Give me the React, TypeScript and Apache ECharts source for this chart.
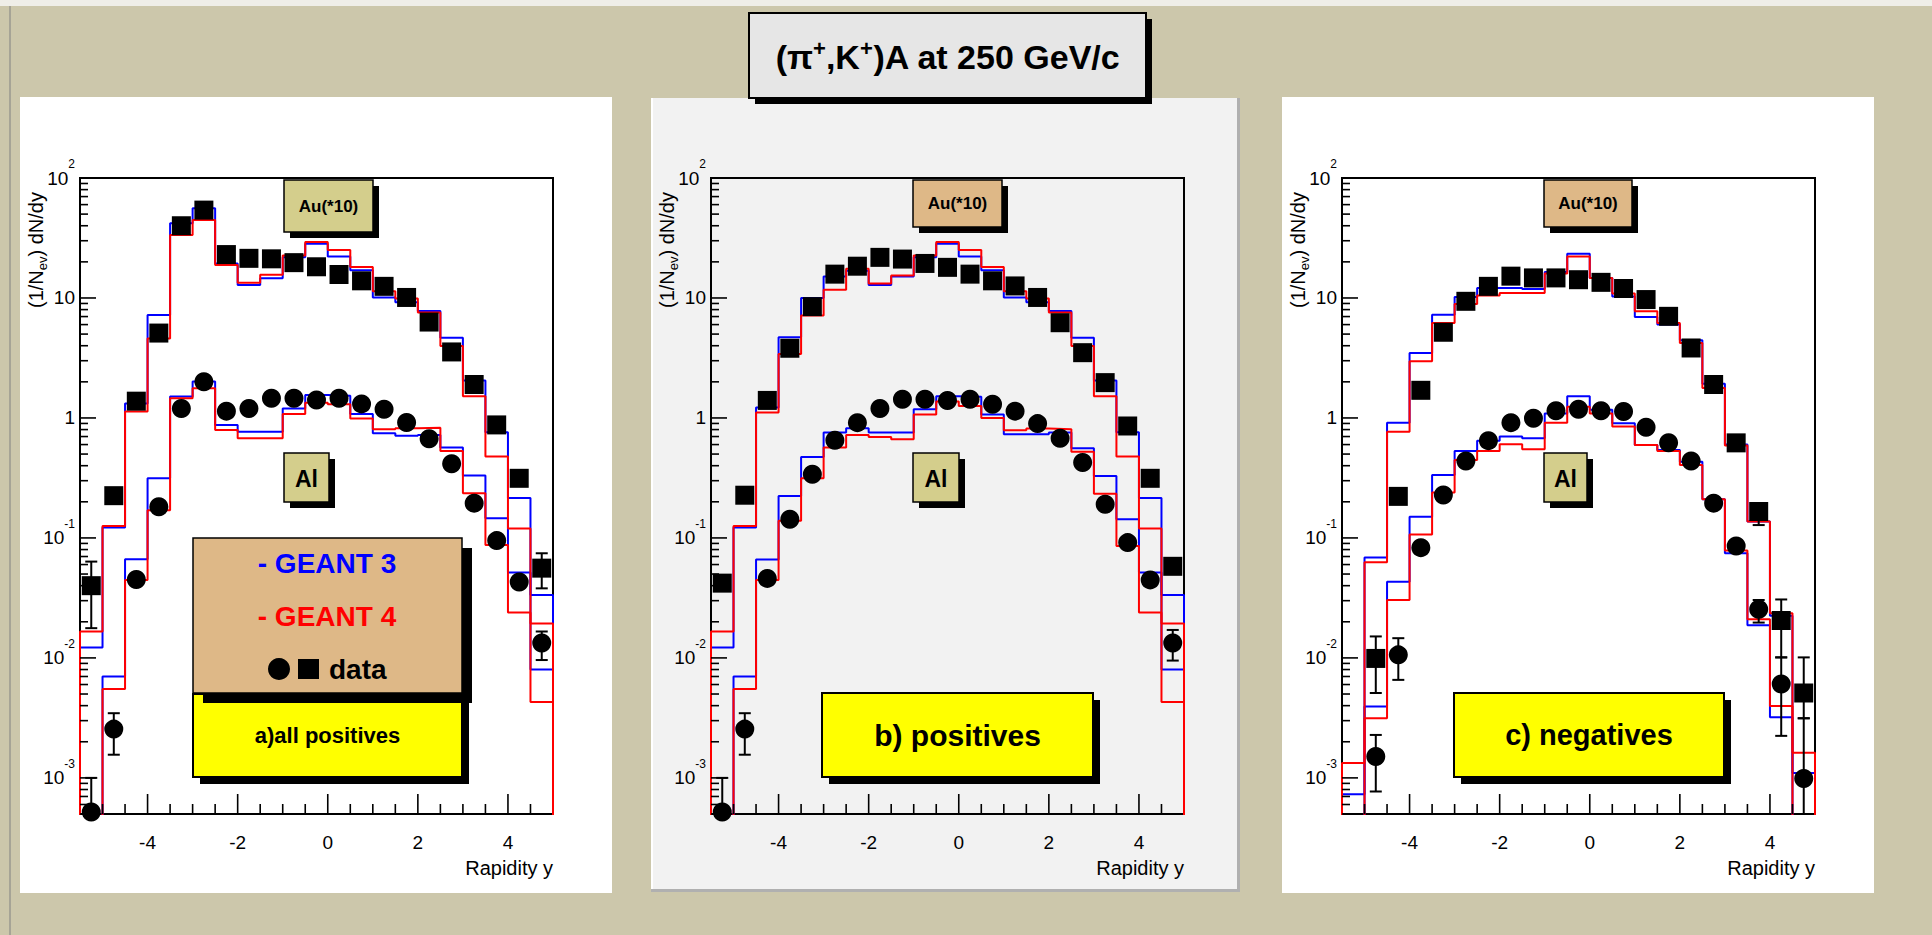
import React, { useEffect, useRef } from "react";
import * as echarts from "echarts";

// ---------------- data ----------------
const binCenters = [-5.25, -4.75, -4.25, -3.75, -3.25, -2.75, -2.25, -1.75, -1.25, -0.75, -0.25, 0.25, 0.75, 1.25, 1.75, 2.25, 2.75, 3.25, 3.75, 4.25, 4.75];
const binWidth = 0.5;
const xTickLabels = [-4, -2, 0, 2, 4];
const yTickLabels = [0.001, 0.01, 0.1, 1, 10, 100];
const X_MIN = -5.5;
const X_MAX = 5;
const Y_MIN = 0.0005;
const Y_MAX = 100;

const chartTitle = "{t|(π}{s|+}{t|,K}{s|+}{t|)A at 250 GeV/c}";
const panelLabels = ["a)all positives", "b) positives", "c) negatives"];
const auLabel = "Au(*10)";
const alLabel = "Al";
const legendG3 = "- GEANT 3";
const legendG4 = "- GEANT 4";
const legendData = "data";
const xTitle = "Rapidity y";

// panel a : all positives
const aAuGeant3 = [0.0122, 0.122, 1.32, 7.2, 42, 56, 19.4, 12.8, 14.6, 21.8, 28.3, 22.2, 17.0, 10.1, 9.2, 7.8, 4.67, 2.05, 0.76, 0.215, 0.0335];
const aAuGeant4 = [0.0166, 0.126, 1.13, 4.6, 33.5, 44.7, 18.8, 13.4, 15.6, 22.6, 29.3, 25.1, 18.1, 11.4, 9.9, 7.55, 3.98, 1.52, 0.478, 0.12, 0.0194];
const aAlGeant3 = [null, 0.007, 0.0664, 0.314, 1.51, 2.01, 0.875, 0.769, 0.769, 1.2, 1.55, 1.53, 1.08, 0.745, 0.71, 0.72, 0.566, 0.331, 0.146, 0.0514, 0.008];
const aAlGeant4 = [null, 0.0055, 0.0447, 0.17, 1.46, 1.77, 0.794, 0.677, 0.677, 1.08, 1.34, 1.3, 0.99, 0.805, 0.82, 0.83, 0.531, 0.236, 0.0875, 0.0239, 0.0043];
const aAuData = [0.04, 0.225, 1.38, 5.1, 40, 54, 23, 21.4, 21.2, 19.7, 18.2, 15.7, 13.9, 12.5, 10.1, 6.3, 3.55, 1.9, 0.875, 0.314, 0.056];
const aAlData = [0.00052, 0.00255, 0.045, 0.182, 1.2, 2.0, 1.14, 1.2, 1.46, 1.46, 1.41, 1.46, 1.31, 1.18, 0.915, 0.67, 0.416, 0.195, 0.095, 0.043, 0.0133];
const aAuErrors = [[0, 0.0177, 0.0635], [20, 0.038, 0.0745]];
const aAlErrors = [[0, 0.0001, 0.001], [1, 0.00156, 0.00346], [20, 0.0096, 0.0166]];

// panel b : positives
const bAuGeant3 = [0.0122, 0.122, 1.22, 4.7, 10, 15.1, 16.9, 12.8, 15.1, 21.8, 28.3, 22.2, 17.0, 10.1, 9.2, 7.8, 4.67, 2.05, 0.76, 0.215, 0.0335];
const bAuGeant4 = [0.0166, 0.126, 1.11, 3.41, 7.13, 11.7, 17.5, 13.2, 15.4, 22.6, 29.3, 25.1, 18.1, 11.4, 9.9, 7.55, 3.98, 1.52, 0.478, 0.12, 0.0194];
const bAlGeant3 = [null, 0.007, 0.066, 0.224, 0.473, 0.755, 0.82, 0.755, 0.755, 1.18, 1.52, 1.5, 1.07, 0.73, 0.73, 0.755, 0.559, 0.329, 0.143, 0.0514, 0.008];
const bAlGeant4 = [null, 0.0055, 0.0447, 0.139, 0.314, 0.566, 0.722, 0.695, 0.664, 1.07, 1.37, 1.26, 1.0, 0.79, 0.815, 0.805, 0.524, 0.234, 0.0858, 0.0239, 0.0043];
const bAuData = [0.042, 0.227, 1.4, 3.81, 8.47, 15.8, 18.4, 21.8, 21.1, 19.4, 18.0, 15.8, 13.9, 12.6, 10.1, 6.22, 3.5, 1.97, 0.857, 0.314, 0.058];
const bAlData = [0.00052, 0.00255, 0.046, 0.143, 0.34, 0.652, 0.914, 1.2, 1.43, 1.43, 1.4, 1.43, 1.3, 1.14, 0.897, 0.677, 0.425, 0.191, 0.0914, 0.0447, 0.0133];
const bAuErrors: number[][] = [];
const bAlErrors = [[0, 0.0001, 0.001], [1, 0.00156, 0.00346], [20, 0.0095, 0.0171]];

// panel c : negatives
const cAuGeant3 = [0.00073, 0.0686, 0.914, 3.48, 7.26, 10.2, 12.1, 12.1, 11.9, 16.5, 23.4, 14.7, 10.3, 6.95, 6.0, 4.44, 1.93, 0.6, 0.137, 0.0225, 0.0011];
const cAuGeant4 = [0.00133, 0.0627, 0.769, 2.97, 6.19, 8.9, 10.5, 11.0, 11.0, 16.0, 22.2, 14.7, 10.9, 7.74, 6.19, 4.22, 1.78, 0.59, 0.137, 0.0236, 0.00162];
const cAlGeant3 = [null, 0.00393, 0.0432, 0.15, 0.335, 0.531, 0.647, 0.699, 0.677, 1.09, 1.52, 1.17, 0.903, 0.596, 0.541, 0.432, 0.21, 0.0745, 0.0187, 0.0032, null];
const cAlGeant4 = [null, 0.00314, 0.0304, 0.107, 0.239, 0.447, 0.531, 0.604, 0.548, 0.914, 1.24, 1.09, 0.847, 0.596, 0.53, 0.406, 0.21, 0.0784, 0.021, 0.00398, null];
const cAuData = [null, 0.0099, 0.222, 1.7, 5.18, 9.38, 12.5, 15.2, 14.7, 14.7, 14.2, 13.5, 12.0, 9.7, 7.03, 3.83, 1.9, 0.62, 0.166, 0.0205, 0.0051];
const cAlData = [null, 0.00151, 0.0106, 0.083, 0.228, 0.438, 0.647, 0.914, 0.994, 1.15, 1.18, 1.15, 1.13, 0.836, 0.622, 0.438, 0.195, 0.0858, 0.0254, 0.00607, 0.00099];
const cAuErrors = [[1, 0.0051, 0.0151], [18, 0.128, 0.19], [19, 0.0101, 0.0307], [20, 0.00314, 0.0101]];
const cAlErrors = [[1, 0.00077, 0.00228], [2, 0.00656, 0.0146], [18, 0.0197, 0.0304], [19, 0.00224, 0.0101], [20, 0.0001, 0.00314]];

// ---------------- layout / style ----------------
const FONT = '"Liberation Sans", Arial, Helvetica, sans-serif';
const GRID_TOP = 178;
const GRID_W = 473;
const GRID_H = 636;
const BLUE = "#0000ff";
const RED = "#ff0000";
const KHAKI = "#d4ce8c";
const TAN = "#deb887";
const YELLOW = "#ffff00";
const BG = "#ccc7ab";

const panels = [
  { au3: aAuGeant3, au4: aAuGeant4, al3: aAlGeant3, al4: aAlGeant4, auD: aAuData, alD: aAlData, auE: aAuErrors, alE: aAlErrors },
  { au3: bAuGeant3, au4: bAuGeant4, al3: bAlGeant3, al4: bAlGeant4, auD: bAuData, alD: bAlData, auE: bAuErrors, alE: bAlErrors },
  { au3: cAuGeant3, au4: cAuGeant4, al3: cAlGeant3, al4: cAlGeant4, auD: cAuData, alD: cAlData, auE: cAuErrors, alE: cAlErrors },
];

const layout = [
  { gridLeft: 80, pad: [20, 97, 592, 796], padFill: "#ffffff", auBox: [284, 180, 89, 52], auFill: KHAKI, alBox: [284, 453, 45, 49], yBox: [193, 694, 269, 83], yFont: 22 },
  { gridLeft: 711, pad: [651, 98, 589, 794], padFill: "#f2f2f2", auBox: [913, 180, 89, 47], auFill: TAN, alBox: [913, 453, 46, 49], yBox: [822, 693, 271, 84], yFont: 30 },
  { gridLeft: 1342, pad: [1282, 97, 592, 796], padFill: "#ffffff", auBox: [1544, 180, 88, 47], auFill: TAN, alBox: [1544, 453, 43, 49], yBox: [1454, 693, 270, 84], yFont: 29 },
];

function histLine(values: (number | null)[]) {
  const tiny = 1e-6;
  const pts: number[][] = [];
  pts.push([binCenters[0] - binWidth / 2, tiny]);
  values.forEach((v, i) => {
    const y = v == null ? tiny : v;
    pts.push([binCenters[i] - binWidth / 2, y]);
    pts.push([binCenters[i] + binWidth / 2, y]);
  });
  pts.push([binCenters[binCenters.length - 1] + binWidth / 2, tiny]);
  return pts;
}

function points(values: (number | null)[]) {
  const out: number[][] = [];
  values.forEach((v, i) => {
    if (v != null) out.push([binCenters[i], v]);
  });
  return out;
}

function yLabel(v: number) {
  const e = Math.log10(v);
  const r = Math.round(e);
  if (Math.abs(e - r) > 1e-4) return "";
  if (!yTickLabels.some((t) => Math.round(Math.log10(t)) === r)) return "";
  if (r === 0) return "{b|1}";
  if (r === 1) return "{b|10}";
  return "{b|10}{s|" + r + "}";
}

function tickData() {
  const d: number[][] = [];
  for (let k = -10; k <= 9; k++) {
    const v = k * 0.5;
    if (v <= X_MIN || v >= X_MAX) continue;
    const major = xTickLabels.some((t) => Math.abs(t - v) < 1e-9);
    d.push([v, 1, major ? 20 : 10, 0]);
  }
  for (let e = -4; e <= 1; e++) {
    for (let m = 1; m <= 9; m++) {
      const v = m * Math.pow(10, e);
      if (v < Y_MIN * 0.999 || v > Y_MAX * 1.001) continue;
      d.push([0, v, m === 1 ? 16 : 8, 1]);
    }
  }
  d.push([0, 100, 16, 1]);
  return d;
}

function boxWithShadow(r: number[], fill: string, off: number, z: number, lw = 1.5) {
  return [
    { type: "rect", z, shape: { x: r[0] + off, y: r[1] + off, width: r[2], height: r[3] }, style: { fill: "#000" }, silent: true },
    { type: "rect", z: z + 1, shape: { x: r[0], y: r[1], width: r[2], height: r[3] }, style: { fill, stroke: "#000", lineWidth: lw }, silent: true },
  ];
}

function text(x: number, y: number, t: string, size: number, opts: any = {}) {
  return {
    type: "text",
    x,
    y,
    z: opts.z ?? 30,
    rotation: opts.rotation ?? 0,
    silent: true,
    style: {
      text: t,
      fill: opts.fill ?? "#000",
      fontSize: size,
      fontWeight: opts.weight ?? "bold",
      fontFamily: FONT,
      align: opts.align ?? "center",
      verticalAlign: opts.valign ?? "middle",
      textAlign: opts.align ?? "center",
      textVerticalAlign: opts.valign ?? "middle",
      rich: opts.rich,
    },
  };
}

function buildOption() {
  const grid: any[] = [];
  const xAxis: any[] = [];
  const yAxis: any[] = [];
  const series: any[] = [];
  const elements: any[] = [];

  // decoration of the canvas
  elements.push({ type: "rect", z: -10, shape: { x: 0, y: 0, width: 1932, height: 6 }, style: { fill: "#efeee8" }, silent: true });
  elements.push({ type: "rect", z: -10, shape: { x: 9, y: 6, width: 2, height: 929 }, style: { fill: "#a6a496" }, silent: true });

  panels.forEach((p, i) => {
    const L = layout[i];
    grid.push({ left: L.gridLeft, top: GRID_TOP, width: GRID_W, height: GRID_H, show: true, borderColor: "#000", borderWidth: 2, backgroundColor: "rgba(0,0,0,0)", containLabel: false, outerBoundsMode: "none" });
    xAxis.push({
      gridIndex: i, type: "value", min: X_MIN, max: X_MAX, interval: 0.5,
      axisLine: { show: false }, axisTick: { show: false }, splitLine: { show: false },
      axisLabel: {
        interval: 0, margin: 19, color: "#000", fontSize: 19, fontFamily: FONT,
        formatter: (v: number) => (xTickLabels.some((t) => Math.abs(t - v) < 1e-6) ? String(Math.round(v)) : ""),
      },
    });
    yAxis.push({
      gridIndex: i, type: "log", logBase: 10, min: Y_MIN, max: Y_MAX,
      axisLine: { show: false }, axisTick: { show: false }, splitLine: { show: false },
      minorTick: { show: false }, minorSplitLine: { show: false },
      axisLabel: {
        margin: 5, color: "#000", fontSize: 19, fontFamily: FONT, formatter: yLabel,
        rich: {
          b: { fontSize: 19, lineHeight: 40, fontFamily: FONT, color: "#000" },
          s: { fontSize: 12, lineHeight: 12, verticalAlign: "top", fontFamily: FONT, color: "#000" },
        },
      },
    });

    const line = (vals: (number | null)[], color: string, name: string) => ({
      type: "line", name, xAxisIndex: i, yAxisIndex: i, data: histLine(vals), symbol: "none", showSymbol: false,
      lineStyle: { color, width: 2 }, clip: true, silent: true, z: 2,
    });
    series.push(line(p.al3, BLUE, "Al GEANT 3"));
    series.push(line(p.au3, BLUE, "Au GEANT 3"));
    series.push(line(p.al4, RED, "Al GEANT 4"));
    series.push(line(p.au4, RED, "Au GEANT 4"));

    const errs = [...p.auE, ...p.alE].map((e) => [binCenters[e[0]], e[1], e[2]]);
    if (errs.length) {
      series.push({
        type: "custom", name: "errors", xAxisIndex: i, yAxisIndex: i, silent: true, z: 4, data: errs,
        renderItem: (params: any, api: any) => {
          const cs = params.coordSys;
          const x = api.value(0);
          const pHi = api.coord([x, api.value(2)]);
          const pLo = api.coord([x, api.value(1)]);
          const top = cs.y;
          const bot = cs.y + cs.height;
          const yHi = Math.max(pHi[1], top);
          const yLo = Math.min(pLo[1], bot);
          const st = { stroke: "#000", lineWidth: 2 };
          const ch: any[] = [{ type: "line", shape: { x1: pHi[0], y1: yHi, x2: pHi[0], y2: yLo }, style: st }];
          if (pHi[1] >= top) ch.push({ type: "line", shape: { x1: pHi[0] - 6, y1: yHi, x2: pHi[0] + 6, y2: yHi }, style: st });
          if (pLo[1] <= bot) ch.push({ type: "line", shape: { x1: pHi[0] - 6, y1: yLo, x2: pHi[0] + 6, y2: yLo }, style: st });
          return { type: "group", children: ch };
        },
      });
    }

    series.push({
      type: "scatter", name: "Au data", xAxisIndex: i, yAxisIndex: i, data: points(p.auD), symbol: "rect", symbolSize: 19,
      itemStyle: { color: "#000", opacity: 1 }, silent: true, z: 5,
    });
    series.push({
      type: "scatter", name: "Al data", xAxisIndex: i, yAxisIndex: i, data: points(p.alD), symbol: "circle", symbolSize: 19,
      itemStyle: { color: "#000", opacity: 1 }, silent: true, z: 5,
    });

    series.push({
      type: "custom", name: "ticks", xAxisIndex: i, yAxisIndex: i, silent: true, z: 6, data: tickData(),
      renderItem: (params: any, api: any) => {
        const cs = params.coordSys;
        const len = api.value(2);
        const dir = api.value(3);
        const pt = api.coord([api.value(0), api.value(1)]);
        const st = { stroke: "#000", lineWidth: 1.6 };
        if (dir === 0) {
          const yb = cs.y + cs.height;
          return { type: "line", shape: { x1: pt[0], y1: yb, x2: pt[0], y2: yb - len }, style: st };
        }
        return { type: "line", shape: { x1: cs.x, y1: pt[1], x2: cs.x + len, y2: pt[1] }, style: st };
      },
    });

    // pads
    const pd = L.pad;
    elements.push({ type: "rect", z: -5, shape: { x: pd[0], y: pd[1], width: pd[2], height: pd[3] }, style: { fill: L.padFill }, silent: true });
    if (i === 1) {
      elements.push({ type: "rect", z: -4, shape: { x: pd[0] + pd[2] - 3, y: pd[1], width: 3, height: pd[3] }, style: { fill: "#b0b0b0" }, silent: true });
      elements.push({ type: "rect", z: -4, shape: { x: pd[0], y: pd[1] + pd[3] - 3, width: pd[2], height: 3 }, style: { fill: "#b0b0b0" }, silent: true });
      elements.push({ type: "rect", z: -4, shape: { x: pd[0], y: pd[1], width: 2, height: pd[3] - 3 }, style: { fill: "#ffffff" }, silent: true });
    }

    // axis titles
    elements.push(text(L.gridLeft + GRID_W, 868, xTitle, 20, { weight: "normal", align: "right" }));
    elements.push(
      text(L.gridLeft - 44, 192, "{n|(1/N}{sub|ev}{n|) dN/dy}", 20, {
        weight: "normal", align: "right", rotation: Math.PI / 2,
        rich: {
          n: { fontSize: 20, fontFamily: FONT, lineHeight: 26, fill: "#000" },
          sub: { fontSize: 13, fontFamily: FONT, lineHeight: 13, verticalAlign: "bottom", fill: "#000" },
        },
      })
    );

    // Au / Al label boxes
    elements.push(...boxWithShadow(L.auBox, L.auFill, 6, 20));
    elements.push(text(L.auBox[0] + L.auBox[2] / 2, L.auBox[1] + L.auBox[3] / 2, auLabel, 17, { z: 22 }));
    elements.push(...boxWithShadow(L.alBox, KHAKI, 6, 20));
    elements.push(text(L.alBox[0] + L.alBox[2] / 2, L.alBox[1] + L.alBox[3] / 2 + 1, alLabel, 23, { z: 22 }));

    // panel label (yellow)
    elements.push(...boxWithShadow(L.yBox, YELLOW, 7, 20, 2));
    elements.push(text(L.yBox[0] + L.yBox[2] / 2, L.yBox[1] + L.yBox[3] / 2, panelLabels[i], L.yFont, { z: 22 }));
  });

  // legend in panel a (drawn after yellow box so its shadow overlaps)
  const lg = [193, 538, 269, 155];
  elements.push(
    { type: "rect", z: 23, shape: { x: lg[0] + 10, y: lg[1] + 10, width: lg[2], height: lg[3] }, style: { fill: "#000" }, silent: true },
    { type: "rect", z: 24, shape: { x: lg[0], y: lg[1], width: lg[2], height: lg[3] }, style: { fill: TAN, stroke: "#000", lineWidth: 1.5 }, silent: true }
  );
  elements.push(text(327, 563, legendG3, 28, { fill: BLUE, z: 25 }));
  elements.push(text(327, 616, legendG4, 28, { fill: RED, z: 25 }));
  elements.push({ type: "circle", z: 25, shape: { cx: 279, cy: 669, r: 11 }, style: { fill: "#000" }, silent: true });
  elements.push({ type: "rect", z: 25, shape: { x: 298, y: 659, width: 21, height: 20 }, style: { fill: "#000" }, silent: true });
  elements.push(text(329, 669, legendData, 28, { align: "left", z: 25 }));

  // main title
  elements.push(...boxWithShadow([749, 13, 397, 85], "#e6e6e6", 6, 40, 2));
  elements.push(
    text(948, 57, chartTitle, 34, {
      z: 42,
      rich: {
        t: { fontSize: 34, fontWeight: "bold", fontFamily: FONT, lineHeight: 40, fill: "#000" },
        s: { fontSize: 22, fontWeight: "bold", fontFamily: FONT, lineHeight: 22, verticalAlign: "top", fill: "#000" },
      },
    })
  );

  return {
    animation: false,
    backgroundColor: BG,
    grid,
    xAxis,
    yAxis,
    series,
    graphic: { elements },
  };
}

export default function App() {
  const ref = useRef<HTMLDivElement>(null);
  useEffect(() => {
    if (!ref.current) return;
    const chart = echarts.init(ref.current, null, { renderer: "svg", width: 1932, height: 935 });
    chart.setOption(buildOption() as any);
    return () => chart.dispose();
  }, []);
  return <div ref={ref} style={{ position: "fixed", left: 0, top: 0, width: 1932, height: 935 }} />;
}
